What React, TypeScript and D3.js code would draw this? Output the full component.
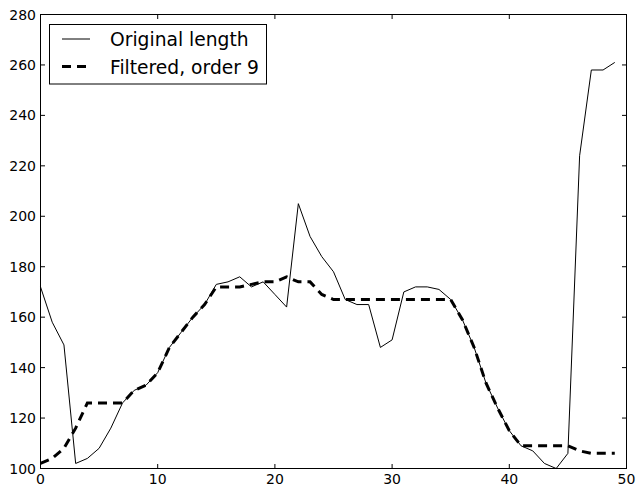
import React from "react";
import * as d3 from "d3";

const xValues: number[] = Array.from({ length: 50 }, (_, i) => i);

const originalLength: number[] = [
  172, 158, 149, 102, 104, 108, 116, 126, 131, 133,
  138, 148, 154, 160, 165, 173, 174, 176, 172, 174,
  169, 164, 205, 192, 184, 178, 167, 165, 165, 148,
  151, 170, 172, 172, 171, 167, 159, 148, 134, 124,
  115, 109, 107, 102, 100, 106, 224, 258, 258, 261,
];

const filteredOrder9: number[] = [
  102, 104, 108, 116, 126, 126, 126, 126, 131, 133,
  138, 148, 154, 160, 165, 172, 172, 172, 173, 174,
  174, 176, 174, 174, 169, 167, 167, 167, 167, 167,
  167, 167, 167, 167, 167, 167, 159, 148, 134, 124,
  115, 109, 109, 109, 109, 109, 107, 106, 106, 106,
];

const xTicks: number[] = [0, 10, 20, 30, 40, 50];
const yTicks: number[] = [100, 120, 140, 160, 180, 200, 220, 240, 260, 280];
const legendLabels: string[] = ["Original length", "Filtered, order 9"];

const W = 639;
const H = 491;
const L = 40.5;
const R = 626.5;
const T = 14.5;
const B = 468.5;
const FONT = "DejaVu Sans, sans-serif";

export default function App() {
  const x = d3.scaleLinear().domain([0, 50]).range([L, R]);
  const y = d3.scaleLinear().domain([100, 280]).range([B, T]);
  const line = d3
    .line<number>()
    .x((_, i) => x(xValues[i]))
    .y((d) => y(d));

  const tickLen = 4.5;

  return (
    <svg
      width={W}
      height={H}
      style={{ position: "absolute", left: 0, top: 0, background: "#fff" }}
      fontFamily={FONT}
    >
      <rect x={0} y={0} width={W} height={H} fill="#fff" />
      <path d={line(originalLength) || ""} fill="none" stroke="#000" strokeWidth={1} />
      <path
        d={line(filteredOrder9) || ""}
        fill="none"
        stroke="#000"
        strokeWidth={3}
        strokeDasharray="9,6"
      />
      {/* frame */}
      <rect x={L} y={T} width={R - L} height={B - T} fill="none" stroke="#000" strokeWidth={1} />
      {/* x ticks */}
      {xTicks.map((t) => (
        <g key={"x" + t}>
          <line x1={x(t)} x2={x(t)} y1={B} y2={B - tickLen} stroke="#000" />
          <line x1={x(t)} x2={x(t)} y1={T} y2={T + tickLen} stroke="#000" />
          <text x={x(t)} y={484} fontSize={14} textAnchor="middle" fill="#000">
            {t}
          </text>
        </g>
      ))}
      {yTicks.map((t) => (
        <g key={"y" + t}>
          <line x1={L} x2={L + tickLen} y1={y(t)} y2={y(t)} stroke="#000" />
          <line x1={R} x2={R - tickLen} y1={y(t)} y2={y(t)} stroke="#000" />
          <text x={36} y={y(t) + 5} fontSize={14} textAnchor="end" fill="#000">
            {t}
          </text>
        </g>
      ))}
      {/* legend */}
      <rect x={49.5} y={24.5} width={217} height={59.5} fill="#fff" stroke="#000" strokeWidth={1} />
      <line x1={62} x2={90} y1={39} y2={39} stroke="#000" strokeWidth={1} />
      <line x1={62} x2={90} y1={66.5} y2={66.5} stroke="#000" strokeWidth={3} strokeDasharray="9,6" />
      <text x={110} y={46} fontSize={18.7} fill="#000">
        {legendLabels[0]}
      </text>
      <text x={110} y={73.5} fontSize={18.7} fill="#000">
        {legendLabels[1]}
      </text>
    </svg>
  );
}
